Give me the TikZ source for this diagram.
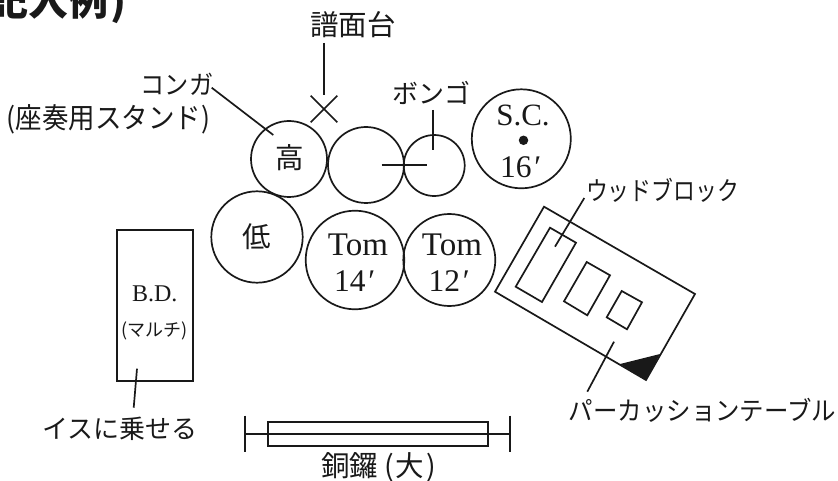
\documentclass[tikz,border=0pt]{standalone}
\usepackage{fontspec}
\setmainfont{Liberation Serif}
\newfontfamily\jp{Noto Sans CJK JP}
\newfontfamily\jpb{Noto Sans CJK JP Black}
\newcommand{\sx}[2]{\scalebox{#1}[1]{#2}}
\tikzset{
  ln/.style={draw=black!90,line width=1.7pt},
  drum/.style={circle,ln,inner sep=0pt,outer sep=0pt},
  lab/.style={inner sep=0pt,outer sep=0pt,text=black!90,anchor=center},
  jl/.style={lab,font=\jp\fontsize{26}{26}\selectfont},
  jm/.style={lab,font=\jp\fontsize{28.5}{28.5}\selectfont},
  rl/.style={lab,anchor=base west,font=\fontsize{31.5}{31.5}\selectfont},
  rt/.style={lab,anchor=base,font=\fontsize{33}{33}\selectfont},
}
\begin{document}
\begin{tikzpicture}[x=1pt,y=-1pt]
\useasboundingbox (0,0) rectangle (838,481);
\begin{scope}
\clip (0,0) rectangle (838,481);
\node[lab,anchor=base east,font=\jpb\fontsize{40}{40}\selectfont] (title) at (126,16) {記入例\hspace{2pt})};
\end{scope}
% drums
\node[drum,minimum size=76pt] (high) at (289,159) {};
\node[drum,minimum size=76pt] (mid) at (366,165) {};
\node[drum,minimum size=61pt] (bongo) at (434.2,165.5) {};
\node[drum,minimum size=99pt] (sc) at (521.3,138.8) {};
\node[drum,minimum size=91.4pt] (low) at (257,237) {};
\node[drum,minimum size=98.6pt] (t14) at (355,260) {};
\node[drum,minimum size=92pt] (t12) at (449.3,260) {};
% drum texts
\node[jm] (thigh) at (289.5,158) {高};
\node[jm] (tlow) at (257,237) {低};
\node[rt,font=\fontsize{31}{31}\selectfont] (tsc) at (523,126) {S.C.};
\node[circle,fill=black!90,minimum size=9.5pt,inner sep=0pt] (scdot) at (523.5,140.3) {};
\node[rl] (t16) at (500,178) {16\hspace{3pt}′};
\node[rt] (ttom1) at (358,255.5) {Tom};
\node[rl] (t141) at (334,291) {14\hspace{3pt}′};
\node[rt] (ttom2) at (452,255.5) {Tom};
\node[rl] (t121) at (428.5,291) {12\hspace{3pt}′};
% bass drum
\node[ln,minimum width=76pt,minimum height=151.3pt,inner sep=0pt,outer sep=0pt] (bd) at (154.7,305.6) {};
\node[lab,anchor=base,font=\fontsize{24}{24}\selectfont] (bdt) at (154.7,301) {B.D.};
\node[lab,font=\jp\fontsize{18}{18}\selectfont] (multi) at (154.7,331) {(マルチ)};
% table
\coordinate (ta) at (544,206.7);
\coordinate (tb) at (695,294);
\coordinate (tc) at (646,380);
\coordinate (td) at (495,291.7);
\draw[ln,line join=miter] (ta) -- (tb) -- (tc) -- (td) -- cycle;
\fill[black!90] (620,364) -- (660,354) -- (646,380) -- cycle;
\draw[ln] (550,227.7) -- (576,242.7) -- (542,302) -- (515.7,286.7) -- cycle;
\draw[ln] (586.7,262) -- (610,275.3) -- (587.3,315.3) -- (564,301.3) -- cycle;
\draw[ln] (621.7,291) -- (642,302.3) -- (627,329.3) -- (606.7,317.3) -- cycle;
% stand X
\coordinate (xa) at (310.7,95.7); \coordinate (xb) at (337.3,122.3);
\coordinate (xc) at (337.3,95.7); \coordinate (xd) at (310.7,122.3);
\draw[ln] (xa) -- (xb);
\draw[ln] (xc) -- (xd);
% labels
\node[jm] (fudai) at (353,25) {譜面台};
\node[jl] (conga) at (177,84) {\sx{.93}{コンガ}};
\node[jm] (za) at (108.5,119.5) {\sx{.93}{(座奏用スタンド)}};
\node[jl] (bongot) at (431,93) {ボンゴ};
\node[jl] (wood) at (662.5,190.5) {\sx{.84}{ウッドブロック}};
\node[jl] (perc) at (702.5,410) {\sx{.94}{パーカッションテーブル}};
\node[jl] (isu) at (120,429) {イスに乗せる};
\node[jm] (dora) at (378.5,467) {銅鑼\hspace{6pt}(\hspace{2pt}大\hspace{2pt})};
% leaders
\coordinate (l1a) at (324,43); \coordinate (l1b) at (324,95);
\draw[ln] (l1a) -- (l1b);
\coordinate (l2a) at (211.7,87.7); \coordinate (l2b) at (273.3,135);
\draw[ln] (l2a) -- (l2b);
\coordinate (l3a) at (381.7,165.3); \coordinate (l3b) at (426.7,165.3);
\draw[ln] (l3a) -- (l3b);
\coordinate (l4a) at (432.7,110); \coordinate (l4b) at (432.7,150);
\draw[ln] (l4a) -- (l4b);
\coordinate (l5a) at (584.3,198); \coordinate (l5b) at (555,246.7);
\draw[ln] (l5a) -- (l5b);
\coordinate (l6a) at (614,341.7); \coordinate (l6b) at (587.3,391.7);
\draw[ln] (l6a) -- (l6b);
\coordinate (l7a) at (137,368.7); \coordinate (l7b) at (133.7,407.7);
\draw[ln] (l7a) -- (l7b);
% gong
\coordinate (gl1) at (245.3,415.7); \coordinate (gl2) at (245.3,452.3);
\coordinate (gr1) at (510,415.7); \coordinate (gr2) at (510,452.3);
\coordinate (gml) at (245.3,433.7); \coordinate (gmr) at (510,433.7);
\draw[ln] (gl1) -- (gl2);
\draw[ln] (gr1) -- (gr2);
\draw[ln] (gml) -- (gmr);
\node[ln,minimum width=220.3pt,minimum height=23.7pt,inner sep=0pt,outer sep=0pt] (gong) at (377.85,434.15) {};
\end{tikzpicture}
\end{document}
